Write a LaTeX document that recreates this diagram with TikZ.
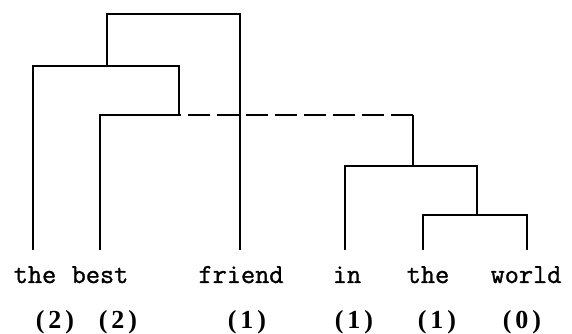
\documentclass[tikz,border=0pt]{standalone}
\usepackage{fontspec}
\newfontfamily\wordfont[FakeBold=1.2]{Latin Modern Mono}
\newfontfamily\labfont[LetterSpace=15]{Liberation Serif}
\begin{document}
\begin{tikzpicture}[x=1pt,y=1pt,line width=2.5pt,
  word/.style={font=\fontsize{27.5}{30}\selectfont\wordfont,inner sep=0pt,anchor=base},
  lab/.style={font=\fontsize{26}{28}\selectfont\labfont\bfseries,inner sep=0pt,anchor=base},
  dashlink/.style={dash pattern=on 22pt off 7pt}]
\useasboundingbox (0,0) rectangle (572,334);
% leaf tick ends
\coordinate (b1) at (33,84);
\coordinate (b2) at (100,84);
\coordinate (b3) at (240,84);
\coordinate (b4) at (345,84);
\coordinate (b5) at (423,84);
\coordinate (b6) at (527,84);
% words
\node[word] (w1) at (35,51) {the};
\node[word] (w2) at (100,51) {best};
\node[word] (w3) at (241,51) {friend};
\node[word] (w4) at (347,51) {in};
\node[word] (w5) at (428,51) {the};
\node[word] (w6) at (526,51) {world};
% labels
\node[lab] (l1) at (55,5) {(2)};
\node[lab] (l2) at (118,5) {(2)};
\node[lab] (l3) at (247,5) {(1)};
\node[lab] (l4) at (354,5) {(1)};
\node[lab] (l5) at (437,5) {(1)};
\node[lab] (l6) at (522,5) {(0)};
% junctions
\coordinate (j1) at (477,119);
\coordinate (j1t) at (477,168);
\coordinate (j2) at (413,168);
\coordinate (j2t) at (413,219);
\coordinate (j3) at (179,219);
\coordinate (j3t) at (179,268);
\coordinate (j4) at (107,268);
\coordinate (j4t) at (107,320);
% tree
\draw (b5) |- (j1) -| (b6);
\draw (b4) |- (j1t) -- (j1);
\draw (j2) -- (j2t);
\draw[dashlink] (j2t) -- (j3);
\draw (b1) |- (j3t) -- (j3) -| (b2);
\draw (j4) -- (j4t) -| (b3);
\end{tikzpicture}
\end{document}
